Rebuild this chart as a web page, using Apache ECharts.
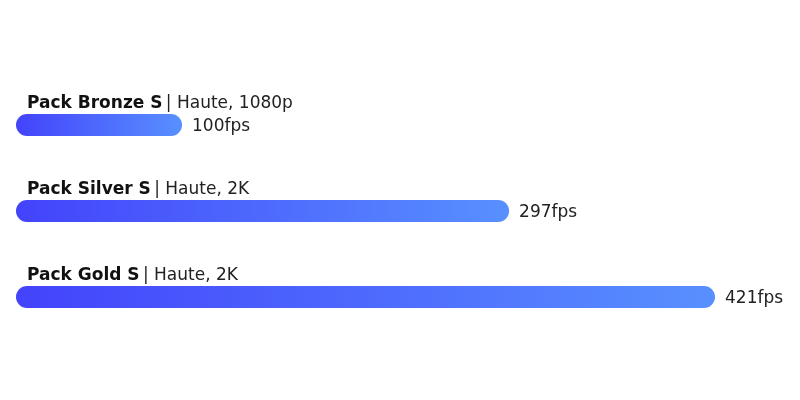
<!DOCTYPE html>
<html>
<head>
<meta charset="utf-8">
<script src="https://cdn.jsdelivr.net/npm/echarts@6/dist/echarts.min.js"></script>
<style>html,body{margin:0;padding:0;background:#fff;}#c{width:800px;height:400px;}</style>
</head>
<body>
<div id="c"></div>
<script>
const packNames = ['Pack Bronze S', 'Pack Silver S', 'Pack Gold S'];
const packSpecs = ['Haute, 1080p', 'Haute, 2K', 'Haute, 2K'];
const fpsValues = [100, 297, 421];
const valueUnit = 'fps';

const chart = echarts.init(document.getElementById('c'));
const font = '"DejaVu Sans", sans-serif';
const grad = new echarts.graphic.LinearGradient(0, 0, 1, 0, [
  {offset: 0, color: '#4343FB'},
  {offset: 1, color: '#5890FF'}
]);
chart.setOption({
  animation: false,
  grid: {left: 16, right: 85, top: 82, height: 258},
  xAxis: {type: 'value', min: 0, max: 421, show: false},
  yAxis: {type: 'category', data: packNames, inverse: true, show: false},
  series: [
    {
      type: 'bar',
      data: fpsValues,
      barWidth: 22,
      itemStyle: {color: grad, borderRadius: 11},
      label: {
        show: true,
        position: [11, -10],
        verticalAlign: 'middle',
        align: 'left',
        formatter: p => '{b|' + packNames[p.dataIndex] + '} {n|| ' + packSpecs[p.dataIndex] + '}',
        rich: {
          b: {fontFamily: font, fontSize: 17, fontWeight: 700, color: '#111'},
          n: {fontFamily: font, fontSize: 17, fontWeight: 400, color: '#222'}
        }
      },
      z: 2
    },
    {
      type: 'bar',
      data: fpsValues,
      barWidth: 22,
      barGap: '-100%',
      itemStyle: {color: 'rgba(0,0,0,0)'},
      label: {
        show: true,
        position: 'right',
        distance: 10,
        offset: [0, 2],
        fontFamily: font,
        fontSize: 17,
        fontWeight: 400,
        color: '#222',
        formatter: p => p.value + valueUnit
      },
      z: 1
    }
  ]
});
</script>
</body>
</html>
